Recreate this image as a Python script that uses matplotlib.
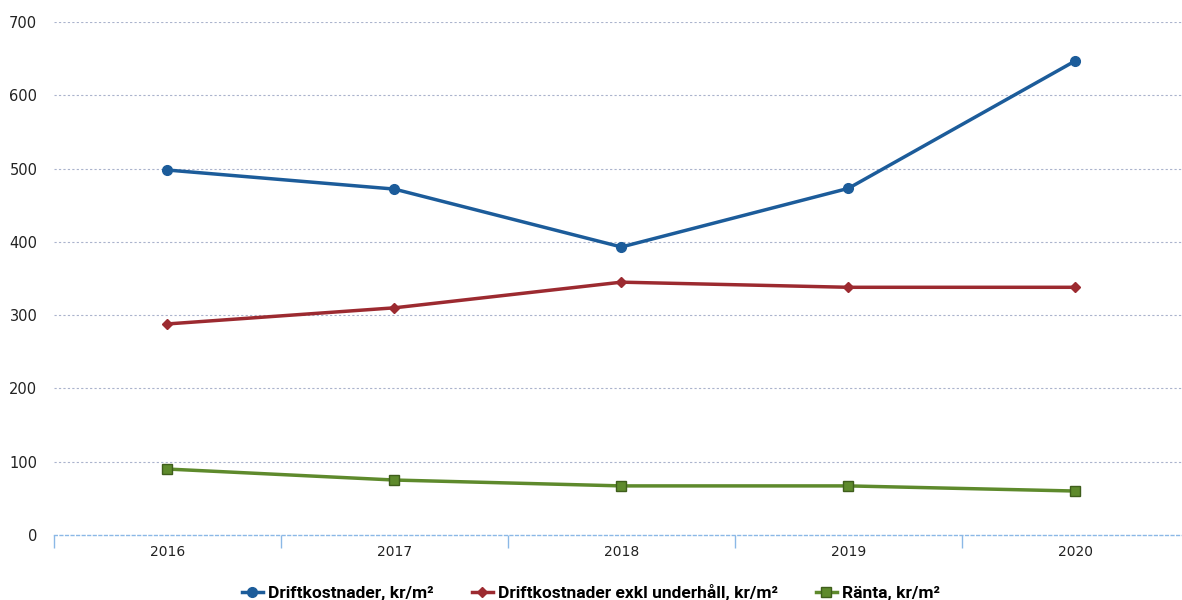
import numpy as np
import matplotlib.pyplot as plt
from matplotlib.lines import Line2D

# Data
years = ['2016', '2017', '2018', '2019', '2020']
drift = [498, 472, 393, 473, 647]
drift_exkl = [288, 310, 345, 338, 338]
ranta = [90, 75, 67, 67, 60]

c_blue = '#1c5c9a'
c_red = '#9c2a30'
c_green = '#5e8a2c'

fig = plt.figure(figsize=(11.82, 6), dpi=100)
ax = fig.add_axes([54 / 1182, 65 / 600, 1 - 54 / 1182, (535 - 22) / 600])

x = np.arange(len(years))
ax.plot(x, drift, color=c_blue, lw=2.5, marker='o', ms=7, zorder=3)
ax.plot(x, drift_exkl, color=c_red, lw=2.5, marker='D', ms=5, zorder=3)
ax.plot(x, ranta, color=c_green, lw=2.5, marker='s', ms=7, mec='#3f5e1c', zorder=3)

ax.set_yticks(range(0, 701, 100))
ax.set_xticks(x)
ax.set_xticklabels(years)
ax.set_xticks(np.arange(-0.5, 4.0, 1), minor=True)
ax.set_ylim(0, 700)
ax.set_xlim(-0.5, 4.47)

for y in range(100, 701, 100):
    ax.axhline(y, color='#aab3cc', lw=0.8, ls=(0, (2, 2)), zorder=1)

for s in ['top', 'right', 'left']:
    ax.spines[s].set_visible(False)
ax.spines['bottom'].set_color('#8bb8e6')
ax.spines['bottom'].set_linestyle((0, (2, 2)))
ax.spines['bottom'].set_linewidth(1.0)

ax.tick_params(axis='y', length=0, labelsize=10.5, colors='#222222', pad=12)
ax.tick_params(axis='x', which='major', length=0, labelsize=10, colors='#222222', pad=7)
ax.tick_params(axis='x', which='minor', length=9, color='#8bb8e6', width=1)

handles = [
    Line2D([], [], color=c_blue, lw=2.5, marker='o', ms=7),
    Line2D([], [], color=c_red, lw=2.5, marker='D', ms=5),
    Line2D([], [], color=c_green, lw=2.5, marker='s', ms=7, mec='#3f5e1c'),
]
labels = ['Driftkostnader, kr/m²', 'Driftkostnader exkl underhåll, kr/m²', 'Ränta, kr/m²']
fig.legend(handles, labels, loc='lower center', bbox_to_anchor=(0.5, -0.028), ncol=3,
           frameon=False, handlelength=1.2, handletextpad=0.3, columnspacing=2.2,
           prop={'family': ['Liberation Sans Narrow', 'Roboto'], 'weight': 'bold', 'size': 12.5})

fig.savefig('out.png', dpi=100)
